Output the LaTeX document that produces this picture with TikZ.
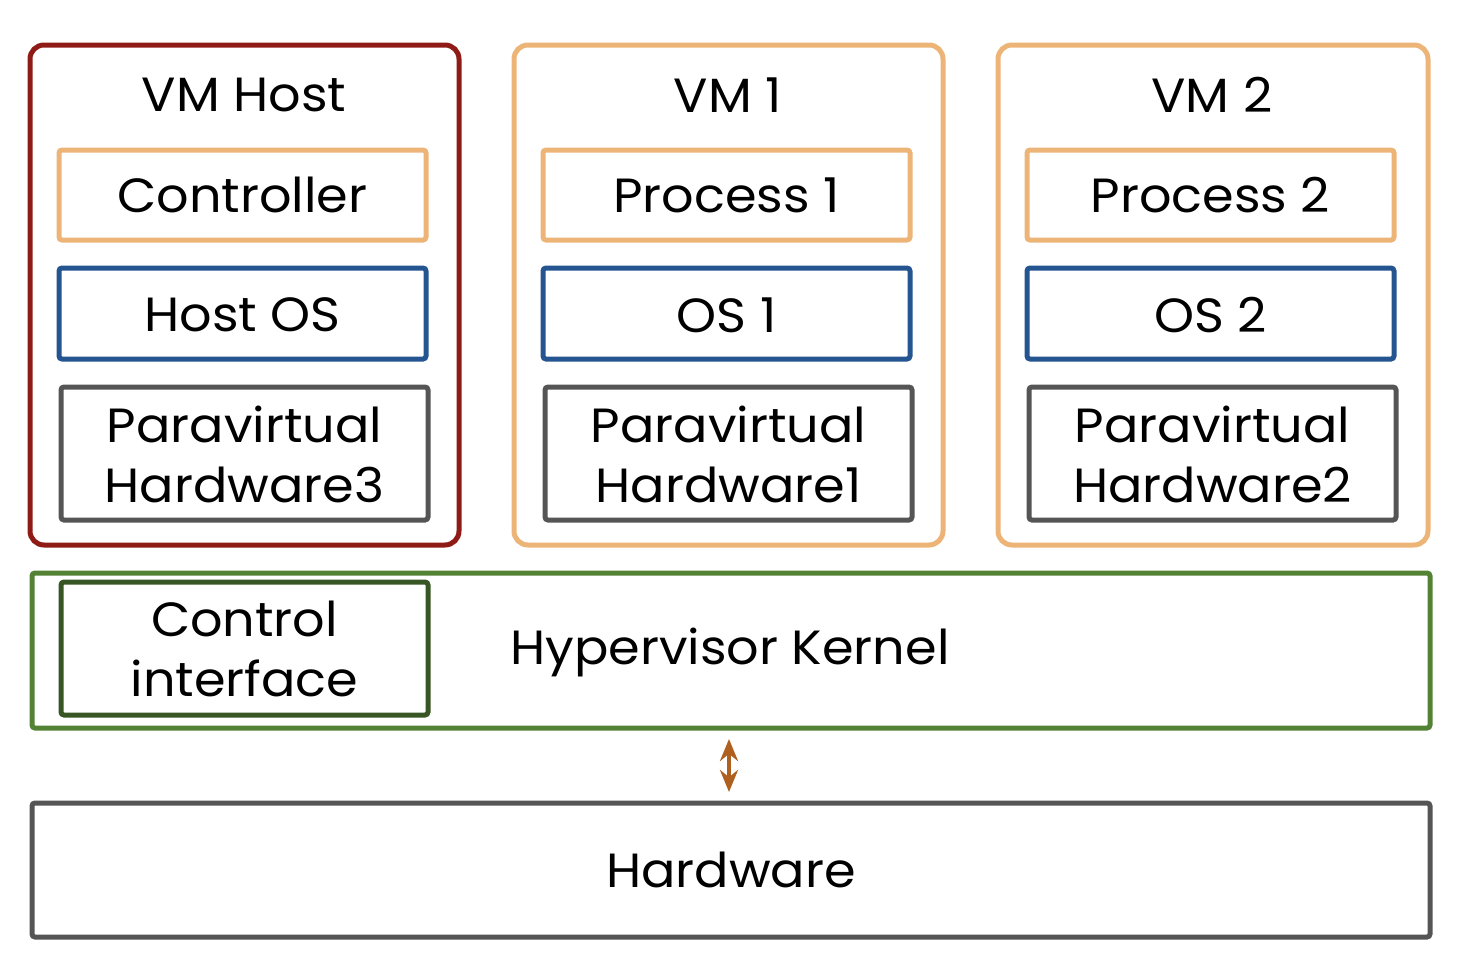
\documentclass[tikz,border=0pt]{standalone}
\usepackage{fontspec}
\setmainfont[FakeStretch=1.06]{Poppins}
\usetikzlibrary{arrows.meta}
\definecolor{hostred}{HTML}{8E1B16}
\definecolor{vmorange}{HTML}{EDB477}
\definecolor{osblue}{HTML}{255591}
\definecolor{hwgray}{HTML}{555555}
\definecolor{kgreen}{HTML}{548235}
\definecolor{cgreen}{HTML}{375623}
\definecolor{arrbrown}{HTML}{B0601E}
\begin{document}
\begin{tikzpicture}[x=0.5pt,y=-0.5pt,
  txt/.style={font=\fontsize{24}{30}\selectfont, align=center, inner sep=0pt},
  outerbox/.style={line width=2.5pt, rounded corners=7pt},
  innerbox/.style={line width=2.5pt, rounded corners=1.5pt}]
\useasboundingbox (0,0) rectangle (1464,954);
% VM containers
\draw[outerbox, hostred] (30,45) rectangle (459,545);
\draw[outerbox, vmorange] (514,45) rectangle (943,545);
\draw[outerbox, vmorange] (998,45) rectangle (1428,545);
\node[txt] (th) at (244,95) {VM Host};
\node[txt] (t1) at (728,95) {VM 1};
\node[txt] (t2) at (1212,95) {VM 2};
% VM Host
\draw[innerbox, vmorange] (59,150) rectangle (426,240);
\node[txt] (ctrl) at (242.5,195) {Controller};
\draw[innerbox, osblue] (59,268) rectangle (426,359);
\node[txt] (hos) at (242.5,315) {Host OS};
\draw[innerbox, hwgray] (61,387) rectangle (428,520);
\node[txt] (ph3) at (244.5,454) {Paravirtual\\Hardware3};
% VM 1
\draw[innerbox, vmorange] (543,150) rectangle (910,240);
\node[txt] (p1) at (726.5,195) {Process 1};
\draw[innerbox, osblue] (543,268) rectangle (910,359);
\node[txt] (os1) at (726.5,315) {OS 1};
\draw[innerbox, hwgray] (545,387) rectangle (912,520);
\node[txt] (ph1) at (728.5,454) {Paravirtual\\Hardware1};
% VM 2
\draw[innerbox, vmorange] (1027,150) rectangle (1394,240);
\node[txt] (p2) at (1210.5,195) {Process 2};
\draw[innerbox, osblue] (1027,268) rectangle (1394,359);
\node[txt] (os2) at (1210.5,315) {OS 2};
\draw[innerbox, hwgray] (1029,387) rectangle (1396,520);
\node[txt] (ph2) at (1212.5,454) {Paravirtual\\Hardware2};
% Hypervisor kernel
\draw[innerbox, kgreen] (32,573) rectangle (1430,728);
\node[txt] (hk) at (730,652) {Hypervisor Kernel};
\draw[innerbox, cgreen] (61,582) rectangle (428,715);
\node[txt] (ci) at (244.5,649) {Control\\interface};
% Hardware
\draw[innerbox, hwgray] (32,803) rectangle (1430,937);
\node[txt] (hw) at (731,870) {Hardware};
% arrow
\coordinate (atop) at (729,739);
\coordinate (abot) at (729,792);
\draw[arrbrown, line width=2pt, {Stealth[length=11pt,width=9pt]}-{Stealth[length=11pt,width=9pt]}] (atop) -- (abot);
\end{tikzpicture}
\end{document}
